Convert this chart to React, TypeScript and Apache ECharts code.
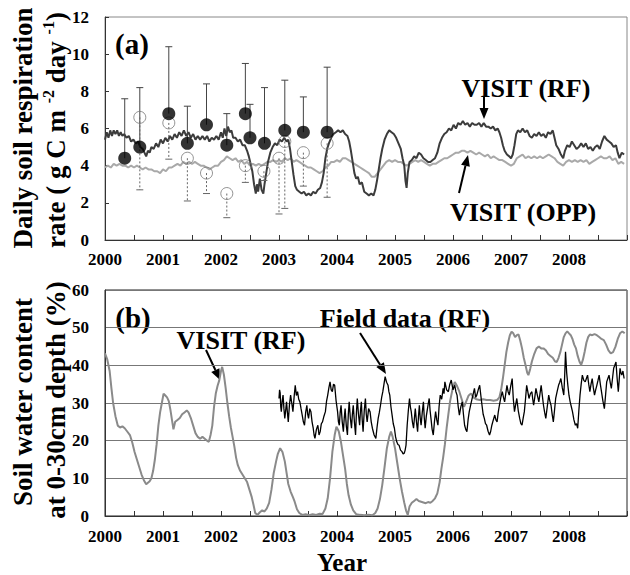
import React, { useEffect, useRef } from "react";
import * as echarts from "echarts";

// ---------- DATA ----------
const yearTicks = [2000, 2001, 2002, 2003, 2004, 2005, 2006, 2007, 2008];

// Panel (a): VISIT (RF) daily soil respiration (g C m-2 day-1)
const visitRfResp: [number, number][] = [
  [2000.00,5.4],[2000.03,5.8],[2000.06,5.5],[2000.09,5.9],[2000.12,5.6],[2000.15,5.9],[2000.18,5.7],[2000.21,5.9],
  [2000.24,5.6],[2000.27,5.8],[2000.30,5.6],[2000.33,5.7],[2000.37,5.5],[2000.41,5.6],[2000.45,5.3],[2000.49,5.4],
  [2000.53,5.2],[2000.57,5.3],[2000.61,5.0],[2000.65,4.9],[2000.68,4.7],[2000.71,4.5],[2000.74,4.8],[2000.77,4.7],
  [2000.80,5.0],[2000.84,4.9],[2000.88,5.2],[2000.92,5.0],[2000.96,5.4],[2001.00,5.2],[2001.04,5.5],[2001.08,5.3],
  [2001.12,5.6],[2001.16,5.4],[2001.20,5.7],[2001.24,5.5],[2001.28,5.8],[2001.32,5.6],[2001.36,5.9],[2001.40,5.6],
  [2001.44,5.8],[2001.48,5.5],[2001.52,5.7],[2001.56,5.4],[2001.60,5.6],[2001.64,5.4],[2001.68,5.6],[2001.72,5.4],
  [2001.76,5.6],[2001.80,5.3],[2001.84,5.5],[2001.88,5.4],[2001.92,5.6],[2001.96,5.4],[2002.00,5.8],[2002.03,5.5],
  [2002.06,6.0],[2002.09,5.6],[2002.12,6.1],[2002.15,5.8],[2002.18,5.9],[2002.21,5.5],[2002.25,5.5],[2002.29,5.3],
  [2002.33,5.4],[2002.37,5.1],[2002.41,5.1],[2002.45,4.8],[2002.48,4.5],[2002.51,4.1],[2002.54,3.7],[2002.57,3.0],
  [2002.60,2.5],[2002.62,3.0],[2002.64,2.6],[2002.67,3.3],[2002.70,2.7],[2002.73,2.5],[2002.75,3.0],[2002.78,3.6],
  [2002.81,4.2],[2002.85,4.7],[2002.89,5.0],[2002.93,5.2],[2002.97,5.1],[2003.01,5.4],[2003.05,5.3],[2003.09,5.5],
  [2003.13,5.3],[2003.16,5.4],[2003.19,4.9],[2003.22,4.2],[2003.25,3.5],[2003.28,2.9],[2003.31,2.7],[2003.35,2.6],
  [2003.39,2.5],[2003.43,2.6],[2003.47,2.4],[2003.51,2.5],[2003.55,2.4],[2003.59,2.6],[2003.63,2.5],[2003.67,2.7],
  [2003.71,2.8],[2003.74,3.1],[2003.77,3.6],[2003.80,4.4],[2003.83,4.9],[2003.86,5.2],[2003.90,5.5],[2003.94,5.7],
  [2003.98,5.8],[2004.02,5.9],[2004.06,5.8],[2004.10,5.9],[2004.14,5.7],[2004.18,5.6],[2004.21,5.3],[2004.24,4.8],
  [2004.27,4.2],[2004.30,3.6],[2004.33,3.3],[2004.36,3.4],[2004.39,3.0],[2004.43,3.1],[2004.47,2.6],[2004.51,2.5],
  [2004.55,2.4],[2004.59,2.5],[2004.63,2.4],[2004.66,2.7],[2004.69,3.2],[2004.72,3.8],[2004.75,4.4],[2004.78,4.9],
  [2004.82,5.4],[2004.86,5.7],[2004.90,5.9],[2004.94,5.8],[2004.98,5.7],[2005.02,5.5],[2005.06,5.2],[2005.10,4.9],
  [2005.13,4.4],[2005.16,4.0],[2005.18,3.2],[2005.20,2.8],[2005.22,3.6],[2005.25,4.2],[2005.29,4.3],[2005.33,4.5],
  [2005.37,4.4],[2005.41,4.7],[2005.45,4.6],[2005.49,4.4],[2005.53,4.3],[2005.57,4.2],[2005.61,4.2],[2005.65,4.3],
  [2005.69,4.4],[2005.73,4.7],[2005.77,5.2],[2005.81,5.5],[2005.85,5.7],[2005.89,5.8],[2005.93,6.0],[2005.97,5.9],
  [2006.01,6.2],[2006.05,6.0],[2006.09,6.3],[2006.13,6.2],[2006.17,6.4],[2006.21,6.2],[2006.25,6.3],[2006.29,6.1],
  [2006.33,6.3],[2006.37,6.2],[2006.41,6.2],[2006.45,6.3],[2006.49,6.1],[2006.53,6.3],[2006.57,6.1],[2006.61,6.1],
  [2006.65,6.0],[2006.69,6.1],[2006.73,5.9],[2006.77,6.0],[2006.80,5.8],[2006.83,5.5],[2006.86,5.1],[2006.89,4.8],
  [2006.93,4.6],[2006.97,4.5],[2007.00,4.4],[2007.03,4.6],[2007.06,5.1],[2007.09,5.7],[2007.12,5.9],[2007.16,5.8],
  [2007.20,6.0],[2007.24,5.8],[2007.28,5.9],[2007.32,5.6],[2007.36,5.5],[2007.40,5.7],[2007.44,5.6],[2007.48,5.8],
  [2007.52,5.6],[2007.56,5.7],[2007.60,5.5],[2007.64,5.8],[2007.68,5.7],[2007.72,5.9],[2007.75,5.5],[2007.78,5.1],
  [2007.82,4.9],[2007.86,4.6],[2007.90,4.4],[2007.93,4.8],[2007.97,5.1],[2008.01,5.0],[2008.05,5.3],[2008.09,5.1],
  [2008.13,4.9],[2008.17,5.0],[2008.21,5.2],[2008.25,5.0],[2008.29,5.2],[2008.33,4.9],[2008.37,5.0],[2008.41,4.8],
  [2008.45,5.0],[2008.49,5.1],[2008.53,4.9],[2008.57,5.3],[2008.61,5.6],[2008.65,5.4],[2008.69,5.3],[2008.73,5.2],
  [2008.77,5.0],[2008.81,5.1],[2008.84,4.7],[2008.87,4.4],[2008.91,4.7],[2008.95,4.6]
];

// Panel (a): VISIT (OPP)
const visitOppResp: [number, number][] = [
  [2000.00,3.9],[2000.05,4.0],[2000.10,3.9],[2000.15,4.1],[2000.20,4.0],[2000.25,4.1],[2000.30,4.0],[2000.35,4.0],
  [2000.40,3.9],[2000.45,4.0],[2000.50,3.9],[2000.55,4.0],[2000.60,3.9],[2000.65,3.8],[2000.70,3.9],[2000.75,3.8],
  [2000.80,3.8],[2000.85,3.7],[2000.90,3.7],[2000.95,3.6],[2001.00,3.8],[2001.05,3.7],[2001.10,3.9],[2001.15,3.9],
  [2001.20,4.0],[2001.25,4.1],[2001.30,4.0],[2001.35,4.2],[2001.40,4.1],[2001.45,4.2],[2001.50,4.1],[2001.55,4.2],
  [2001.60,4.1],[2001.65,4.0],[2001.70,4.0],[2001.75,3.9],[2001.80,3.8],[2001.85,3.9],[2001.90,4.0],[2001.95,4.0],
  [2002.00,4.2],[2002.05,4.3],[2002.10,4.5],[2002.15,4.4],[2002.20,4.3],[2002.25,4.4],[2002.30,4.2],[2002.35,4.3],
  [2002.40,4.1],[2002.45,4.2],[2002.50,4.0],[2002.55,4.1],[2002.60,4.0],[2002.65,4.1],[2002.70,4.0],[2002.75,4.1],
  [2002.80,4.2],[2002.85,4.2],[2002.90,4.3],[2002.95,4.2],[2003.00,4.3],[2003.05,4.2],[2003.10,4.4],[2003.15,4.3],
  [2003.20,4.4],[2003.25,4.2],[2003.30,4.3],[2003.35,4.2],[2003.40,4.1],[2003.45,4.0],[2003.50,3.9],[2003.55,3.9],
  [2003.60,3.8],[2003.65,3.7],[2003.70,3.6],[2003.75,3.7],[2003.80,3.9],[2003.85,4.0],[2003.90,4.2],[2003.95,4.2],
  [2004.00,4.3],[2004.05,4.2],[2004.10,4.4],[2004.15,4.4],[2004.20,4.3],[2004.25,4.2],[2004.30,4.1],[2004.35,4.0],
  [2004.40,3.9],[2004.45,3.8],[2004.50,3.7],[2004.55,3.6],[2004.60,3.4],[2004.65,3.4],[2004.70,3.6],[2004.75,3.8],
  [2004.80,4.0],[2004.85,4.2],[2004.90,4.3],[2004.95,4.2],[2005.00,4.3],[2005.05,4.2],[2005.10,4.2],[2005.15,4.1],
  [2005.20,4.0],[2005.25,4.1],[2005.30,4.2],[2005.35,4.3],[2005.40,4.2],[2005.45,4.3],[2005.50,4.2],[2005.55,4.1],
  [2005.60,4.0],[2005.65,4.1],[2005.70,4.1],[2005.75,4.2],[2005.80,4.3],[2005.85,4.4],[2005.90,4.4],[2005.95,4.5],
  [2006.00,4.6],[2006.05,4.7],[2006.10,4.7],[2006.15,4.8],[2006.20,4.8],[2006.25,4.7],[2006.30,4.8],[2006.35,4.7],
  [2006.40,4.6],[2006.45,4.7],[2006.50,4.6],[2006.55,4.5],[2006.60,4.6],[2006.65,4.4],[2006.70,4.5],[2006.75,4.4],
  [2006.80,4.3],[2006.85,4.3],[2006.90,4.2],[2006.95,4.1],[2007.00,4.0],[2007.05,4.1],[2007.10,4.4],[2007.15,4.5],
  [2007.20,4.6],[2007.25,4.4],[2007.30,4.5],[2007.35,4.4],[2007.40,4.5],[2007.45,4.4],[2007.50,4.5],[2007.55,4.4],
  [2007.60,4.5],[2007.65,4.6],[2007.70,4.5],[2007.75,4.4],[2007.80,4.2],[2007.85,4.1],[2007.90,4.0],[2007.95,4.2],
  [2008.00,4.3],[2008.05,4.2],[2008.10,4.3],[2008.15,4.2],[2008.20,4.3],[2008.25,4.2],[2008.30,4.3],[2008.35,4.1],
  [2008.40,4.2],[2008.45,4.3],[2008.50,4.4],[2008.55,4.5],[2008.60,4.4],[2008.65,4.4],[2008.70,4.5],[2008.75,4.3],
  [2008.80,4.4],[2008.85,4.1],[2008.90,4.2],[2008.95,4.1]
];

// Panel (a): observed (field) respiration, RF plots (filled) with upper error
const rfObsYears = [2000.34, 2000.60, 2001.10, 2001.42, 2001.75, 2002.10, 2002.42, 2002.50, 2002.75, 2003.10, 2003.42, 2003.83];
const rfObsMean = [4.4, 5.0, 6.8, 5.2, 6.2, 5.1, 6.8, 5.5, 5.2, 5.9, 5.8, 5.8];
const rfObsUpper = [7.6, 8.2, 10.4, 7.2, 8.4, 6.8, 9.5, 7.3, 8.2, 8.6, 7.7, 9.3];

// Panel (a): observed respiration, OPP plots (open) with lower error
const oppObsYears = [2000.60, 2001.10, 2001.42, 2001.75, 2002.10, 2002.42, 2002.74, 2003.00, 2003.10, 2003.42, 2003.83];
const oppObsMean = [6.6, 6.3, 4.4, 3.6, 2.5, 4.0, 3.7, 4.4, 5.3, 4.7, 5.2];
const oppObsLower = [2.7, 4.35, 2.1, 2.5, 1.2, 3.1, 3.2, 1.4, 1.7, 2.9, 2.3];

// Panel (b): VISIT (RF) soil water content (%)
const visitRfSwc: [number, number][] = [
  [2000.00,43.2],[2000.04,41.5],[2000.08,38.5],[2000.11,34.0],[2000.14,30.0],[2000.18,26.5],[2000.22,24.0],[2000.26,23.5],
  [2000.30,23.8],[2000.34,23.3],[2000.38,22.5],[2000.43,21.5],[2000.47,19.5],[2000.51,17.0],[2000.55,15.0],[2000.59,13.0],
  [2000.63,11.0],[2000.67,9.5],[2000.71,8.4],[2000.74,8.8],[2000.77,9.2],[2000.80,10.0],[2000.83,12.0],[2000.86,15.0],
  [2000.89,19.0],[2000.92,24.0],[2000.95,27.5],[2000.98,30.0],[2001.01,32.5],[2001.04,32.0],[2001.07,31.5],[2001.10,30.5],
  [2001.13,28.0],[2001.16,25.0],[2001.18,23.0],[2001.21,25.0],[2001.25,25.5],[2001.29,26.0],[2001.33,27.0],[2001.37,27.5],
  [2001.41,28.0],[2001.44,27.5],[2001.48,26.0],[2001.52,24.0],[2001.56,22.0],[2001.60,21.0],[2001.64,20.5],[2001.68,21.0],
  [2001.72,20.5],[2001.76,20.0],[2001.79,19.7],[2001.82,21.5],[2001.85,24.0],[2001.88,29.0],[2001.91,32.5],[2001.94,34.5],
  [2001.97,36.0],[2002.00,38.5],[2002.02,39.6],[2002.05,37.5],[2002.08,34.0],[2002.11,30.0],[2002.14,26.5],[2002.17,23.5],
  [2002.20,21.0],[2002.23,18.5],[2002.26,15.5],[2002.29,13.5],[2002.33,12.0],[2002.37,11.0],[2002.41,10.0],[2002.45,9.0],
  [2002.49,7.0],[2002.53,5.0],[2002.56,3.0],[2002.59,0.8],[2002.63,0.3],[2002.67,1.0],[2002.71,1.5],[2002.75,1.2],
  [2002.79,2.0],[2002.83,3.5],[2002.87,7.0],[2002.91,11.5],[2002.95,14.5],[2002.98,16.5],[2003.02,18.0],[2003.06,17.0],
  [2003.10,14.5],[2003.13,11.5],[2003.16,8.5],[2003.20,6.5],[2003.24,5.0],[2003.27,3.8],[2003.31,1.8],[2003.35,0.8],
  [2003.40,0.3],[2003.46,0.5],[2003.52,0.2],[2003.58,0.5],[2003.64,0.3],[2003.70,0.6],[2003.75,0.5],[2003.80,2.0],
  [2003.84,4.7],[2003.88,10.0],[2003.92,17.0],[2003.96,21.5],[2003.99,23.7],[2004.03,22.5],[2004.07,19.5],[2004.11,15.5],
  [2004.14,12.5],[2004.17,8.5],[2004.20,5.5],[2004.24,3.0],[2004.28,1.5],[2004.33,0.5],[2004.40,0.3],[2004.47,0.2],
  [2004.54,0.3],[2004.61,0.2],[2004.66,0.8],[2004.70,2.0],[2004.74,4.5],[2004.78,8.2],[2004.82,13.0],[2004.86,18.0],
  [2004.90,21.0],[2004.93,22.4],[2004.96,21.0],[2005.00,18.0],[2005.04,14.0],[2005.08,10.0],[2005.12,6.5],[2005.16,3.5],
  [2005.19,1.5],[2005.22,0.3],[2005.25,2.5],[2005.29,3.5],[2005.33,4.0],[2005.37,4.5],[2005.41,4.0],[2005.45,3.8],
  [2005.49,3.6],[2005.53,3.4],[2005.57,3.7],[2005.61,3.5],[2005.65,4.0],[2005.69,4.7],[2005.73,6.0],[2005.77,9.0],
  [2005.80,12.5],[2005.83,15.5],[2005.86,19.0],[2005.89,23.3],[2005.92,27.0],[2005.95,30.5],[2005.99,33.5],[2006.03,35.6],
  [2006.07,34.5],[2006.11,33.0],[2006.15,31.0],[2006.19,29.0],[2006.23,30.5],[2006.27,32.0],[2006.31,32.5],[2006.35,31.5],
  [2006.40,31.0],[2006.46,30.8],[2006.52,31.0],[2006.58,30.8],[2006.64,30.8],[2006.70,30.6],[2006.76,30.8],[2006.80,31.5],
  [2006.83,33.5],[2006.86,36.5],[2006.89,40.0],[2006.92,43.5],[2006.95,46.0],[2006.98,48.0],[2007.01,48.9],[2007.04,48.5],
  [2007.07,47.5],[2007.10,48.0],[2007.13,48.2],[2007.16,46.5],[2007.19,44.5],[2007.22,42.0],[2007.25,40.1],[2007.28,38.0],
  [2007.30,37.4],[2007.33,39.0],[2007.36,41.0],[2007.40,43.0],[2007.44,44.5],[2007.48,45.0],[2007.52,44.5],[2007.56,44.5],
  [2007.60,44.0],[2007.64,43.0],[2007.68,42.5],[2007.72,42.0],[2007.76,41.0],[2007.79,40.9],[2007.82,42.0],[2007.85,43.5],
  [2007.88,45.5],[2007.91,47.5],[2007.94,48.5],[2007.97,49.0],[2008.00,48.5],[2008.03,48.0],[2008.06,47.0],[2008.09,45.5],
  [2008.12,44.5],[2008.15,42.5],[2008.18,41.0],[2008.21,40.1],[2008.24,41.5],[2008.27,43.6],[2008.30,46.0],[2008.33,47.5],
  [2008.36,48.2],[2008.40,48.0],[2008.44,48.3],[2008.48,48.0],[2008.52,47.5],[2008.56,47.0],[2008.60,46.7],[2008.64,45.5],
  [2008.68,44.0],[2008.72,43.2],[2008.76,43.5],[2008.80,44.9],[2008.84,47.0],[2008.88,48.5],[2008.92,49.0],[2008.96,48.5]
];

// Panel (b): Field data (RF) soil water content (%)
const fieldSwc: [number, number][] = [
  [2003.00,31.2],[2003.01,33.5],[2003.02,32.7],[2003.03,29.0],[2003.04,27.7],[2003.055,30.5],[2003.07,32.1],[2003.085,28.5],
  [2003.10,25.9],[2003.115,28.0],[2003.13,30.3],[2003.145,27.5],[2003.16,25.0],[2003.18,29.5],[2003.20,32.1],[2003.22,30.0],
  [2003.24,27.7],[2003.26,31.5],[2003.28,34.7],[2003.30,32.0],[2003.32,33.0],[2003.34,31.0],[2003.36,30.3],[2003.38,28.5],
  [2003.40,26.8],[2003.42,25.0],[2003.44,24.1],[2003.46,27.5],[2003.48,29.4],[2003.495,27.0],[2003.51,25.9],[2003.53,28.5],
  [2003.55,27.7],[2003.57,25.0],[2003.59,23.3],[2003.605,21.5],[2003.62,20.6],[2003.645,23.0],[2003.67,24.1],[2003.69,21.5],
  [2003.71,22.4],[2003.73,24.5],[2003.75,25.0],[2003.775,26.5],[2003.80,27.7],[2003.82,30.5],[2003.84,32.1],[2003.86,34.0],
  [2003.88,35.6],[2003.90,33.5],[2003.92,33.0],[2003.94,35.0],[2003.96,34.7],[2003.985,30.5],[2004.01,27.7],[2004.025,25.0],
  [2004.04,24.1],[2004.055,27.5],[2004.07,29.4],[2004.09,25.0],[2004.11,22.4],[2004.125,26.0],[2004.14,28.5],[2004.16,24.0],
  [2004.18,21.5],[2004.195,27.0],[2004.21,30.3],[2004.23,26.0],[2004.25,23.3],[2004.265,27.0],[2004.28,29.4],[2004.30,25.0],
  [2004.32,21.5],[2004.335,27.5],[2004.35,31.2],[2004.37,27.0],[2004.39,24.1],[2004.405,28.0],[2004.42,30.3],[2004.435,25.5],
  [2004.45,22.4],[2004.47,28.0],[2004.49,31.2],[2004.505,27.0],[2004.52,25.0],[2004.545,28.5],[2004.57,27.7],[2004.59,25.0],
  [2004.61,23.3],[2004.64,21.5],[2004.67,20.6],[2004.69,23.5],[2004.71,25.9],[2004.73,27.5],[2004.75,29.4],[2004.77,31.5],
  [2004.79,33.0],[2004.81,35.0],[2004.83,37.0],[2004.855,35.5],[2004.88,34.7],[2004.895,33.0],[2004.91,32.1],[2004.93,29.0],
  [2004.95,26.8],[2004.97,24.5],[2004.99,23.3],[2005.01,21.0],[2005.03,19.7],[2005.05,19.0],[2005.07,18.8],[2005.095,17.5],
  [2005.12,17.1],[2005.14,16.5],[2005.16,16.7],[2005.175,17.5],[2005.19,18.8],[2005.20,21.5],[2005.21,24.1],[2005.23,28.0],
  [2005.25,31.2],[2005.265,29.0],[2005.28,27.7],[2005.30,25.0],[2005.32,23.3],[2005.335,26.0],[2005.35,28.5],[2005.37,25.0],
  [2005.39,22.4],[2005.405,26.5],[2005.42,29.4],[2005.435,26.0],[2005.45,24.1],[2005.47,27.5],[2005.49,30.3],[2005.505,26.0],
  [2005.52,23.3],[2005.54,26.5],[2005.56,28.5],[2005.575,30.0],[2005.59,31.2],[2005.605,28.0],[2005.62,25.9],[2005.64,23.0],
  [2005.66,21.5],[2005.68,25.0],[2005.70,27.7],[2005.72,25.5],[2005.74,24.1],[2005.76,29.0],[2005.78,32.1],[2005.805,31.0],
  [2005.83,33.9],[2005.845,32.5],[2005.86,35.6],[2005.89,33.5],[2005.92,33.0],[2005.945,35.0],[2005.97,36.1],[2006.00,33.5],
  [2006.03,34.7],[2006.05,33.0],[2006.07,32.1],[2006.09,29.0],[2006.11,26.8],[2006.135,29.0],[2006.16,30.3],[2006.18,27.0],
  [2006.20,24.1],[2006.22,23.0],[2006.24,22.4],[2006.26,25.5],[2006.28,27.7],[2006.305,29.5],[2006.33,31.2],[2006.35,32.5],
  [2006.37,33.9],[2006.39,31.5],[2006.41,32.1],[2006.435,33.5],[2006.46,34.7],[2006.48,32.0],[2006.50,29.4],[2006.52,27.0],
  [2006.54,25.9],[2006.56,24.5],[2006.58,24.1],[2006.605,22.5],[2006.63,21.5],[2006.65,22.5],[2006.67,24.1],[2006.695,25.5],
  [2006.72,26.8],[2006.74,25.5],[2006.76,25.0],[2006.78,27.5],[2006.80,29.4],[2006.825,31.5],[2006.85,33.0],[2006.87,31.5],
  [2006.89,30.3],[2006.91,32.5],[2006.93,34.7],[2006.95,33.0],[2006.97,32.1],[2006.995,34.5],[2007.02,36.5],[2007.04,31.0],
  [2007.06,27.7],[2007.08,29.5],[2007.10,31.2],[2007.125,28.0],[2007.15,25.9],[2007.17,24.5],[2007.19,24.1],[2007.21,26.0],
  [2007.23,27.7],[2007.25,31.0],[2007.27,34.7],[2007.29,33.0],[2007.31,31.2],[2007.335,32.5],[2007.36,33.0],[2007.375,31.0],
  [2007.39,29.4],[2007.41,31.5],[2007.43,33.9],[2007.455,32.0],[2007.48,30.3],[2007.50,32.5],[2007.52,34.7],[2007.54,32.0],
  [2007.56,29.4],[2007.58,27.5],[2007.60,25.9],[2007.625,29.0],[2007.65,32.1],[2007.67,30.5],[2007.69,29.4],[2007.71,27.0],
  [2007.73,25.0],[2007.75,28.0],[2007.77,31.2],[2007.795,33.0],[2007.82,34.7],[2007.84,35.5],[2007.86,36.5],[2007.885,34.0],
  [2007.91,32.1],[2007.925,37.0],[2007.94,43.6],[2007.96,38.0],[2007.98,34.7],[2008.00,32.0],[2008.02,30.3],[2008.04,29.0],
  [2008.06,27.7],[2008.085,25.5],[2008.11,24.1],[2008.13,24.5],[2008.15,23.3],[2008.17,28.0],[2008.19,32.1],[2008.21,35.0],
  [2008.23,37.4],[2008.255,36.0],[2008.28,35.6],[2008.30,36.5],[2008.32,37.4],[2008.34,35.0],[2008.36,33.0],[2008.38,35.0],
  [2008.40,36.5],[2008.42,34.0],[2008.44,32.1],[2008.46,33.5],[2008.48,34.7],[2008.50,36.0],[2008.52,37.4],[2008.54,35.0],
  [2008.56,33.0],[2008.585,30.5],[2008.61,28.5],[2008.63,32.0],[2008.65,35.6],[2008.67,36.5],[2008.69,37.4],[2008.71,35.5],
  [2008.73,33.9],[2008.75,36.5],[2008.77,39.2],[2008.79,40.0],[2008.81,40.9],[2008.83,36.5],[2008.85,33.0],[2008.865,36.0],
  [2008.88,39.2],[2008.895,38.0],[2008.91,37.4],[2008.93,38.5],[2008.95,36.5]
];

// ---------- STYLE ----------
const FONT = "Liberation Serif, Times New Roman, serif";
const AX = "#333";

function arrow(x1: number, y1: number, x2: number, y2: number) {
  const dx = x2 - x1, dy = y2 - y1;
  const len = Math.hypot(dx, dy);
  const ux = dx / len, uy = dy / len;
  const bx = x2 - ux * 11, by = y2 - uy * 11;
  const px = -uy * 4.5, py = ux * 4.5;
  return [
    { type: "line", shape: { x1, y1, x2: bx, y2: by }, style: { stroke: "#000", lineWidth: 2 }, silent: true },
    { type: "polygon", shape: { points: [[x2, y2], [bx + px, by + py], [bx - px, by - py]] }, style: { fill: "#000" }, silent: true },
  ];
}

function label(text: string, x: number, y: number, size: number, rotation = 0, rich?: any) {
  return {
    type: "text",
    x, y, rotation,
    silent: true,
    style: {
      text, fill: "#000", fontFamily: FONT, fontWeight: "bold", fontSize: size,
      align: "center", verticalAlign: "middle",
      textAlign: "center", textVerticalAlign: "middle",
      rich,
    },
  };
}

function errRender(dashed: boolean) {
  return (params: any, api: any) => {
    const p0 = api.coord([api.value(0), api.value(1)]);
    const p1 = api.coord([api.value(0), api.value(2)]);
    const stroke = dashed ? "#666" : "#444";
    return {
      type: "group",
      children: [
        { type: "line", shape: { x1: p0[0], y1: p0[1], x2: p1[0], y2: p1[1] }, style: { stroke, lineWidth: 1, lineDash: dashed ? [2, 2] : null } },
        { type: "line", shape: { x1: p1[0] - 3.5, y1: p1[1], x2: p1[0] + 3.5, y2: p1[1] }, style: { stroke, lineWidth: 1 } },
      ],
    };
  };
}

const xAxisBase = (gridIndex: number, margin: number) => ({
  type: "value", gridIndex, min: 2000, max: 2009, interval: 0.5,
  axisLine: { show: true, lineStyle: { color: AX, width: 1 } },
  axisTick: { show: true, inside: true, length: 5, lineStyle: { color: AX } },
  splitLine: { show: false },
  axisLabel: {
    margin, fontFamily: FONT, fontWeight: "bold", fontSize: 17, color: "#000",
    formatter: (v: number) => (yearTicks.indexOf(v) >= 0 ? String(v) : ""),
  },
});

export default function App() {
  const ref = useRef<HTMLDivElement>(null);
  useEffect(() => {
    if (!ref.current) return;
    const chart = echarts.init(ref.current, null, { renderer: "svg" });
    const superRich = {
      a: { fontFamily: FONT, fontWeight: "bold", fontSize: 27, lineHeight: 32, fill: "#000", color: "#000" },
      s: { fontFamily: FONT, fontWeight: "bold", fontSize: 16, lineHeight: 16, verticalAlign: "top", fill: "#000", color: "#000" },
    };
    chart.setOption({
      animation: false,
      backgroundColor: "#fff",
      grid: [
        { left: 105, top: 17, width: 527, height: 223, show: true, borderColor: "#888", borderWidth: 1, backgroundColor: "transparent" },
        { left: 105, top: 290, width: 527, height: 226, show: true, borderColor: "#222", borderWidth: 1, backgroundColor: "transparent" },
      ],
      xAxis: [xAxisBase(0, 11), xAxisBase(1, 12)],
      yAxis: [
        {
          type: "value", gridIndex: 0, min: 0, max: 12, interval: 2,
          axisLine: { show: true, lineStyle: { color: AX } },
          axisTick: { show: true, inside: true, length: 4, lineStyle: { color: AX } },
          splitLine: { show: false },
          axisLabel: { margin: 16, fontFamily: FONT, fontWeight: "bold", fontSize: 17, color: "#000" },
        },
        {
          type: "value", gridIndex: 1, min: 0, max: 60, interval: 10,
          axisLine: { show: true, lineStyle: { color: AX } },
          axisTick: { show: false },
          splitLine: { show: true, lineStyle: { color: "#777", width: 1 } },
          axisLabel: { margin: 16, fontFamily: FONT, fontWeight: "bold", fontSize: 17, color: "#000" },
        },
      ],
      series: [
        {
          type: "line", xAxisIndex: 0, yAxisIndex: 0, data: visitOppResp, showSymbol: false,
          lineStyle: { color: "#a9a9a9", width: 2 }, z: 2,
        },
        {
          type: "line", xAxisIndex: 0, yAxisIndex: 0, data: visitRfResp, showSymbol: false,
          lineStyle: { color: "#3c3c3c", width: 2 }, z: 3,
        },
        {
          type: "custom", xAxisIndex: 0, yAxisIndex: 0, renderItem: errRender(false),
          data: rfObsYears.map((y, i) => [y, rfObsMean[i], rfObsUpper[i]]),
          encode: { x: 0, y: [1, 2] }, z: 4,
        },
        {
          type: "custom", xAxisIndex: 0, yAxisIndex: 0, renderItem: errRender(true),
          data: oppObsYears.map((y, i) => [y, oppObsMean[i], oppObsLower[i]]),
          encode: { x: 0, y: [1, 2] }, z: 4,
        },
        {
          type: "scatter", xAxisIndex: 0, yAxisIndex: 0, symbol: "circle", symbolSize: 12,
          data: oppObsYears.map((y, i) => [y, oppObsMean[i]]),
          itemStyle: { color: "rgba(255,255,255,0)", borderColor: "#777", borderWidth: 1 }, z: 5,
        },
        {
          type: "scatter", xAxisIndex: 0, yAxisIndex: 0, symbol: "circle", symbolSize: 13,
          data: rfObsYears.map((y, i) => [y, rfObsMean[i]]),
          itemStyle: { color: "#000" }, z: 6,
        },
        {
          type: "line", xAxisIndex: 1, yAxisIndex: 1, data: visitRfSwc, showSymbol: false,
          lineStyle: { color: "#8a8a8a", width: 2 }, z: 3,
        },
        {
          type: "line", xAxisIndex: 1, yAxisIndex: 1, data: fieldSwc, showSymbol: false,
          lineStyle: { color: "#000", width: 1.3 }, z: 4,
        },
      ],
      graphic: [
        label("(a)", 132, 44, 29),
        label("(b)", 133, 318, 29),
        label("VISIT (RF)", 526, 88, 26),
        label("VISIT (OPP)", 523, 212, 26),
        label("VISIT (RF)", 241, 340, 26),
        label("Field data (RF)", 405, 318, 26),
        label("Year", 342, 562, 25),
        label("Daily soil respiration", 23, 128, 27, Math.PI / 2),
        label("{a|rate ( g C m }{s|-2}{a| day }{s|-1}{a|)}", 56, 130, 27, Math.PI / 2, superRich),
        label("Soil water content", 23, 402, 27, Math.PI / 2),
        label("at 0-30cm depth (%)", 56, 400, 27, Math.PI / 2),
        ...arrow(484, 97, 484, 119),
        ...arrow(459, 193, 468, 155),
        ...arrow(206, 350, 220, 380),
        ...arrow(360, 333, 386, 374),
      ],
    });
    return () => chart.dispose();
  }, []);
  return <div ref={ref} style={{ position: "absolute", left: 0, top: 0, width: 630, height: 575, background: "#fff" }} />;
}
